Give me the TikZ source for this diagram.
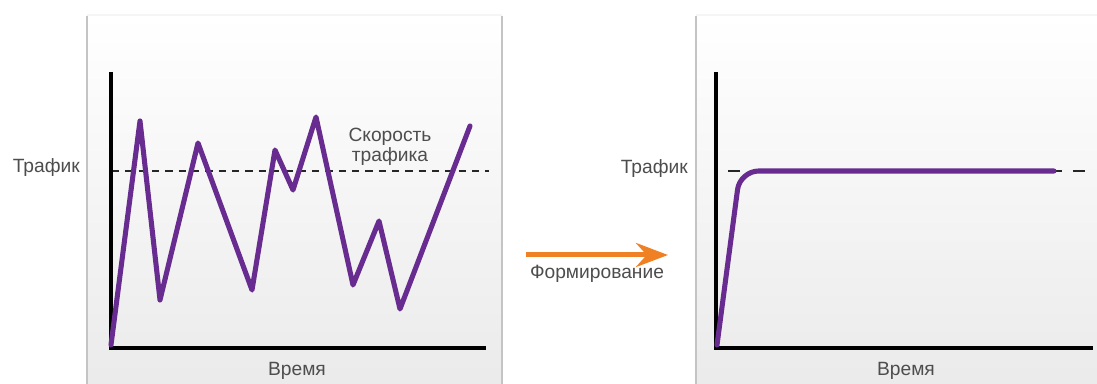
\documentclass[tikz,border=0pt]{standalone}
\usepackage{fontspec}
\setmainfont{Liberation Sans}
\usepackage{xcolor}
\usepackage{tikz}
\usetikzlibrary{arrows.meta,positioning,calc}
\definecolor{trace}{RGB}{104,44,145}
\definecolor{shaper}{RGB}{240,128,36}
\definecolor{txt}{RGB}{77,77,77}
\definecolor{panelgray}{RGB}{196,196,196}
\tikzset{
  panel/.style = {top color = white, bottom color = black!8},
  rim/.style = {panelgray, line width = 1.5pt},
  axis/.style = {line width = 3pt, black, line join = miter},
  rate/.style = {line width = 3.8pt, trace, line join = round, line cap = round},
  level/.style = {line width = 1.7pt, black!85},
  lbl/.style = {font = \fontsize{14.4}{15}\selectfont, text = txt, inner sep = 0pt}
}
\begin{document}
\begin{tikzpicture}[x = 0.75pt, y = -0.75pt]
  \useasboundingbox (0,0) rectangle (1097,384);
  \shade[panel] (87,15) rectangle (502,384);
  \shade[panel] (696,15) rectangle (1097,384);
  \draw[black!4, line width = 1pt] (87,15) -- (502,15);
  \draw[black!4, line width = 1pt] (696,15) -- (1097,15);
  \draw[rim] (87,16) -- (87,384);
  \draw[rim] (502,16) -- (502,384);
  \draw[rim] (696,16) -- (696,384);
  \draw[level, dash pattern = on 5.5pt off 4.5pt] (112,171) -- (489,171);
  \draw[level, dash pattern = on 9pt off 8.25pt] (728,171) -- (1087,171);
  \draw[axis] (111,72) -- (111,348) -- (486,348);
  \draw[axis] (716,72) -- (716,348) -- (1093,348);
  \draw[rate] (111,345) -- (140,121) -- (160,300) -- (198,143) -- (252,290) -- (275,150)
    -- (293,190) -- (316,117) -- (353,285) -- (379,221) -- (400,309) -- (470,126);
  \draw[rate, rounded corners = 14pt] (717,345) -- (740,171) -- (1054,171);
  \node[lbl, anchor = base east] (t1) at (80,173) {Трафик};
  \node[lbl, anchor = base] (v1) at (297,376) {Время};
  \node[lbl, align = center] (s1) at (390,147) {Скорость\\трафика};
  \node[lbl, anchor = base east] (t2) at (688,174) {Трафик};
  \node[lbl, anchor = base] (v2) at (906,376) {Время};
  \node[lbl, anchor = base] (f) at (597,279) {Формирование};
  \coordinate (p) at (526,255);
  \coordinate (q) at (668,255);
  \draw[-{Stealth[length = 24pt, width = 18pt, inset = 8pt]}, line width = 3.75pt, shaper] (p) -- (q);
\end{tikzpicture}
\end{document}
